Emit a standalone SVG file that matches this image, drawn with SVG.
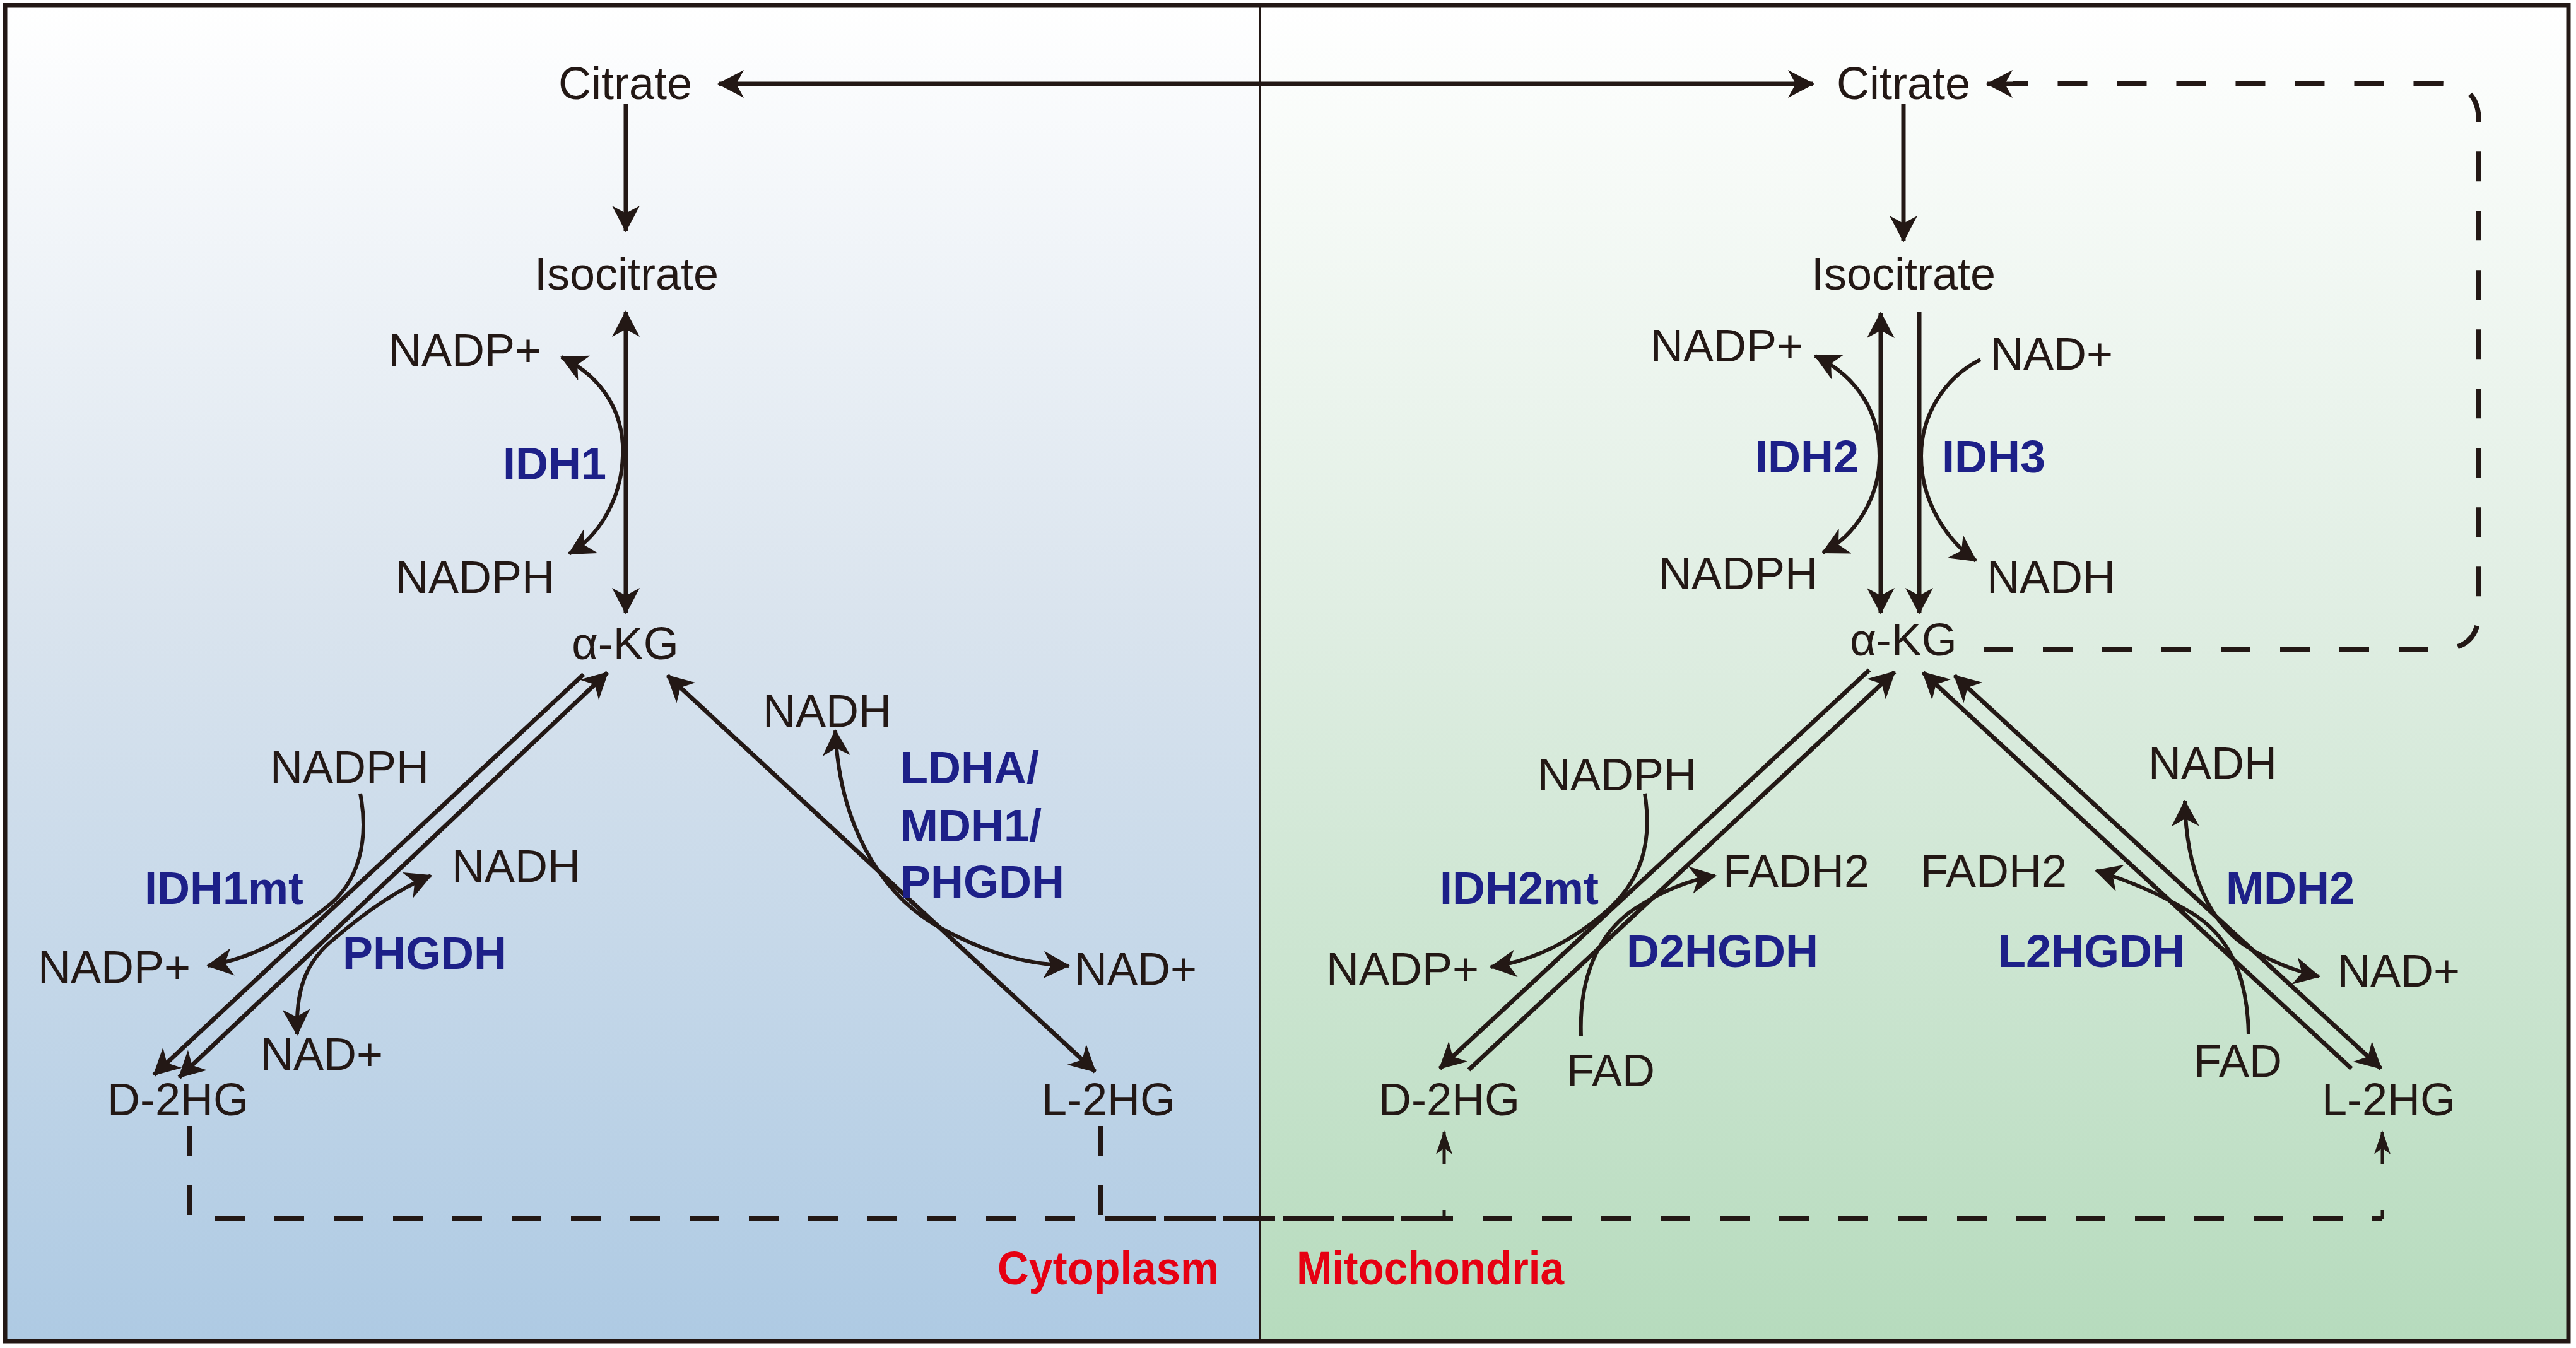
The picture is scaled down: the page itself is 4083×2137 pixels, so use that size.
<svg xmlns="http://www.w3.org/2000/svg" width="4083" height="2137" viewBox="0 0 4083 2137">
<style>
.t{font-family:"Liberation Sans",Arial,sans-serif;font-size:72px;fill:#231815}
.m{text-anchor:middle}
.e{font-family:"Liberation Sans",Arial,sans-serif;font-size:72px;font-weight:bold;fill:#1d2088}
.r{font-family:"Liberation Sans",Arial,sans-serif;font-size:74px;font-weight:bold;fill:#e60012}
.ln{fill:none;stroke:#231815;stroke-width:7}
.cv{fill:none;stroke:#231815;stroke-width:6}
.ds{fill:none;stroke:#231815;stroke-width:8;stroke-dasharray:47 47}
.a2{marker-start:url(#ah);marker-end:url(#ah)}
.a1{marker-end:url(#ah)}
</style>
<defs>
<linearGradient id="gl" x1="0" y1="0" x2="0" y2="1">
<stop offset="0" stop-color="#ffffff"/>
<stop offset="0.45" stop-color="#dae4ee"/>
<stop offset="1" stop-color="#aecae3"/>
</linearGradient>
<linearGradient id="gr" x1="0" y1="0" x2="0" y2="1">
<stop offset="0" stop-color="#ffffff"/>
<stop offset="0.45" stop-color="#e0eee3"/>
<stop offset="1" stop-color="#b6dbbd"/>
</linearGradient>
<marker id="ah" markerUnits="userSpaceOnUse" viewBox="0 0 42 44" refX="40" refY="22" markerWidth="42" markerHeight="44" orient="auto-start-reverse">
<path d="M0,0 L42,22 L0,44 L12,22 Z" fill="#231815"/>
</marker>
<marker id="an" markerUnits="userSpaceOnUse" viewBox="0 0 38 26" refX="36" refY="13" markerWidth="38" markerHeight="26" orient="auto">
<path d="M0,0 L38,13 L0,26 L10,13 Z" fill="#231815"/>
</marker>
</defs>

<g id="panels">
<rect x="8" y="8" width="1989" height="2118" fill="url(#gl)"/>
<rect x="1997" y="8" width="2074" height="2118" fill="url(#gr)"/>
<line x1="1997" y1="8" x2="1997" y2="2126" stroke="#231815" stroke-width="4"/>
<rect x="8" y="8" width="4063" height="2118" fill="none" stroke="#231815" stroke-width="7"/>
</g>

<g id="connectors">
<path class="ln a2" d="M1139,133 H2874"/>
<path class="ln a1" d="M992,165 V366"/>
<path class="ln a1" d="M3017,165 V382"/>
<path class="ln a2" d="M992,494 V972"/>
<path class="ln a2" d="M2981,496 V972"/>
<path class="ln a1" d="M3042,494 V972"/>
<path class="cv a2" d="M890,566 C960,600 990,660 987,723 C985,790 950,850 902,878"/>
<path class="cv a2" d="M2877,564 C2950,600 2979,660 2979,723 C2979,790 2940,850 2889,876"/>
<path class="cv a1" d="M3139,570 C3080,600 3045,660 3045,723 C3045,800 3090,860 3132,889"/>
<path class="ln a1" d="M925,1069 L244,1704"/>
<path class="ln a2" d="M963,1066 L284,1708"/>
<path class="ln a2" d="M1058,1071 L1736,1699"/>
<path class="cv a1" d="M571,1258 C585,1330 570,1400 515,1440 C460,1485 400,1520 329,1531"/>
<path class="cv a2" d="M471,1640 C468,1560 490,1520 530,1488 C580,1445 630,1410 683,1388"/>
<path class="cv a2" d="M1324,1158 C1330,1300 1390,1410 1480,1465 C1560,1510 1620,1528 1694,1531"/>
<path class="ln a1" d="M2963,1062 L2282,1694"/>
<path class="ln a1" d="M2328,1696 L3003,1065"/>
<path class="ln a1" d="M3727,1694 L3048,1066"/>
<path class="ln a2" d="M3098,1071 L3774,1694"/>
<path class="cv a1" d="M2607,1258 C2620,1340 2600,1400 2540,1450 C2480,1500 2420,1525 2363,1533"/>
<path class="cv a1" d="M2506,1643 C2502,1540 2540,1470 2600,1435 C2640,1410 2680,1395 2719,1388"/>
<path class="cv a2" d="M3463,1270 C3465,1380 3500,1460 3560,1500 C3600,1525 3640,1540 3676,1548"/>
<path class="cv a1" d="M3564,1640 C3562,1540 3530,1480 3470,1445 C3420,1415 3370,1395 3322,1380"/>
<path class="ds" d="M3144,1029 H3869 Q3929,1029 3929,969 V193 Q3929,133 3869,133 H3190"/>
<path class="ln a1" d="M3200,133 H3150"/>
<path class="ds" d="M300,1785 V1932 H2289"/>
<path class="ds" d="M1745,1785 V1932 H3776"/>
<path fill="none" stroke="#231815" stroke-width="5" stroke-dasharray="14 72 60" marker-end="url(#an)" d="M2289,1932 V1794"/>
<path fill="none" stroke="#231815" stroke-width="5" stroke-dasharray="14 72 60" marker-end="url(#an)" d="M3776,1932 V1794"/>
</g>

<g id="cyto-citrate"><text class="t m" x="991" y="157">Citrate</text></g>
<g id="cyto-isocitrate"><text class="t m" x="993" y="459">Isocitrate</text></g>
<g id="cyto-nadp-1"><text class="t" x="616" y="580">NADP+</text></g>
<g id="cyto-idh1"><text class="e" x="797" y="760">IDH1</text></g>
<g id="cyto-nadph-1"><text class="t" x="627" y="940">NADPH</text></g>
<g id="cyto-akg"><text class="t m" x="991" y="1045">α-KG</text></g>
<g id="cyto-nadph-2"><text class="t" x="428" y="1241">NADPH</text></g>
<g id="cyto-nadh-1"><text class="t" x="716" y="1398">NADH</text></g>
<g id="cyto-idh1mt"><text class="e" x="229" y="1433">IDH1mt</text></g>
<g id="cyto-nadp-2"><text class="t" x="60" y="1558">NADP+</text></g>
<g id="cyto-phgdh"><text class="e" x="543" y="1536">PHGDH</text></g>
<g id="cyto-nad-1"><text class="t" x="413" y="1696">NAD+</text></g>
<g id="cyto-d2hg"><text class="t" x="170" y="1768">D-2HG</text></g>
<g id="cyto-nadh-2"><text class="t" x="1209" y="1152">NADH</text></g>
<g id="cyto-ldha"><text class="e" x="1427" y="1242">LDHA/</text><text class="e" x="1427" y="1334">MDH1/</text><text class="e" x="1427" y="1423">PHGDH</text></g>
<g id="cyto-nad-2"><text class="t" x="1703" y="1561">NAD+</text></g>
<g id="cyto-l2hg"><text class="t" x="1651" y="1768">L-2HG</text></g>
<g id="cyto-label"><text class="r" x="1581" y="2036" textLength="351" lengthAdjust="spacingAndGlyphs">Cytoplasm</text></g>

<g id="mito-citrate"><text class="t m" x="3017" y="157">Citrate</text></g>
<g id="mito-isocitrate"><text class="t m" x="3017" y="459">Isocitrate</text></g>
<g id="mito-nadp-1"><text class="t" x="2616" y="573">NADP+</text></g>
<g id="mito-nad-1"><text class="t" x="3155" y="586">NAD+</text></g>
<g id="mito-idh2"><text class="e" x="2782" y="749">IDH2</text></g>
<g id="mito-idh3"><text class="e" x="3078" y="749">IDH3</text></g>
<g id="mito-nadph-1"><text class="t" x="2629" y="934">NADPH</text></g>
<g id="mito-nadh-1"><text class="t" x="3149" y="940">NADH</text></g>
<g id="mito-akg"><text class="t m" x="3017" y="1039">α-KG</text></g>
<g id="mito-nadph-2"><text class="t" x="2437" y="1253">NADPH</text></g>
<g id="mito-idh2mt"><text class="e" x="2282" y="1433">IDH2mt</text></g>
<g id="mito-fadh2-1"><text class="t" x="2731" y="1406">FADH2</text></g>
<g id="mito-nadp-2"><text class="t" x="2102" y="1561">NADP+</text></g>
<g id="mito-d2hgdh"><text class="e" x="2578" y="1533">D2HGDH</text></g>
<g id="mito-fad-1"><text class="t" x="2483" y="1722">FAD</text></g>
<g id="mito-d2hg"><text class="t" x="2185" y="1768">D-2HG</text></g>
<g id="mito-nadh-2"><text class="t" x="3405" y="1235">NADH</text></g>
<g id="mito-fadh2-2"><text class="t" x="3044" y="1406">FADH2</text></g>
<g id="mito-mdh2"><text class="e" x="3528" y="1433">MDH2</text></g>
<g id="mito-l2hgdh"><text class="e" x="3167" y="1533">L2HGDH</text></g>
<g id="mito-nad-2"><text class="t" x="3705" y="1564">NAD+</text></g>
<g id="mito-fad-2"><text class="t" x="3477" y="1707">FAD</text></g>
<g id="mito-l2hg"><text class="t" x="3680" y="1768">L-2HG</text></g>
<g id="mito-label"><text class="r" x="2055" y="2036" textLength="424" lengthAdjust="spacingAndGlyphs">Mitochondria</text></g>
</svg>
